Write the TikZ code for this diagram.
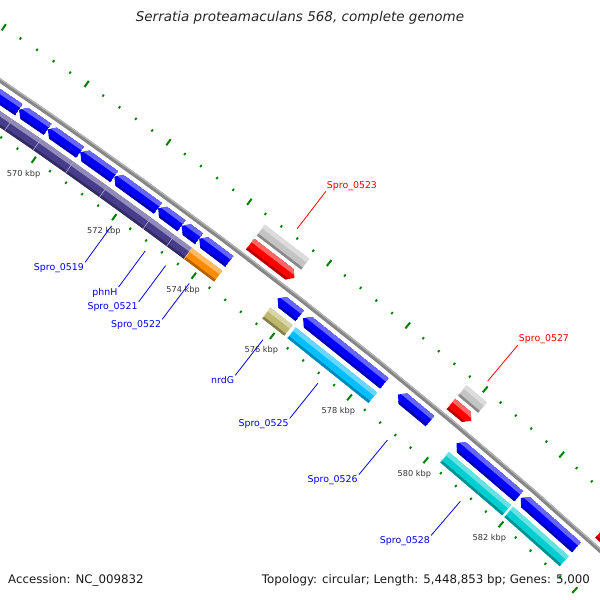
\documentclass[tikz,border=0pt]{standalone}
\usepackage{fontspec}
\setmainfont{DejaVu Sans}
\usepackage{tikz}
\definecolor{cdsblue}{HTML}{0000FF}
\definecolor{featred}{HTML}{FF0000}
\definecolor{darkslateblue}{HTML}{483D8B}
\definecolor{darkorange}{HTML}{FF8C00}
\definecolor{darkkhaki}{HTML}{BDB76B}
\definecolor{deepskyblue}{HTML}{00BFFF}
\definecolor{darkturquoise}{HTML}{00CED1}
\definecolor{silvergray}{HTML}{C4C4C4}
\definecolor{tickgreen}{HTML}{007F00}
\definecolor{backbonegray}{HTML}{868686}

\newcommand{\kang}[1]{345.21-0.509*(#1)}
\newcommand{\cgshade}[4]{%
  \fill[#4] ({\kang{#1}}:{#3}) -- ({\kang{#1}}:{#3+13.5}) -- ({\kang{#2}}:{#3+13.5}) -- ({\kang{#2}}:{#3}) -- cycle;
  \fill[#4!60!white] ({\kang{#1}}:{#3+9}) -- ({\kang{#1}}:{#3+13.5}) -- ({\kang{#2}}:{#3+13.5}) -- ({\kang{#2}}:{#3+9}) -- cycle;
  \fill[#4!70!black] ({\kang{#1}}:{#3}) -- ({\kang{#1}}:{#3+2.5}) -- ({\kang{#2}}:{#3+2.5}) -- ({\kang{#2}}:{#3}) -- cycle;}
\newcommand{\cogbox}[4]{%
  \cgshade{#1}{#2}{#3}{#4}
  \draw[#4!45!white, line width=0.6] ({\kang{#1}}:{#3}) -- ({\kang{#1}}:{#3+13.5});}
\newcommand{\revcds}[4]{%
  \begin{scope}
    \clip ({\kang{#1}}:{#3+6.75}) -- ({\kang{#1+0.13}}:{#3+13.5}) -- ({\kang{#2}}:{#3+13.5}) -- ({\kang{#2}}:{#3}) -- ({\kang{#1+0.13}}:{#3}) -- cycle;
    \cgshade{#1}{#2}{#3}{#4}
  \end{scope}}
\newcommand{\fwdcds}[4]{%
  \begin{scope}
    \clip ({\kang{#1}}:{#3}) -- ({\kang{#1}}:{#3+13.5}) -- ({\kang{#2-0.13}}:{#3+13.5}) -- ({\kang{#2}}:{#3+6.75}) -- ({\kang{#2-0.13}}:{#3}) -- cycle;
    \cgshade{#1}{#2}{#3}{#4}
  \end{scope}}

\begin{document}
\begin{tikzpicture}[
  x=1pt, y=1pt,
  backbone/.style={draw=backbonegray, line width=4.2},
  backbonelight/.style={draw=backbonegray!60!white, line width=1.2},
  bigtick/.style={draw=tickgreen, line width=2},
  smalltick/.style={draw=tickgreen, line width=1.8},
  kbpstyle/.style={text=black!80, font=\fontsize{8.2}{9.6}\selectfont, inner sep=0pt},
  namestyle/.style={font=\fontsize{9.4}{11}\selectfont, inner sep=1pt},
  revname/.style={namestyle, text=blue, anchor=north east},
  fwdname/.style={namestyle, text=red, anchor=south west},
  revlink/.style={draw=blue, line width=0.8},
  fwdlink/.style={draw=red, line width=0.8},
  titlestyle/.style={font=\fontsize{13.5}{16}\itshape, text=black!85, inner sep=0pt},
  infostyle/.style={font=\fontsize{11.8}{14}\selectfont, text=black!90, inner sep=0pt}
]
  \useasboundingbox (0,0) rectangle (600,600);
  \begin{scope}
    \clip (0,0) rectangle (600,600);
    \begin{scope}[shift={(-3150,-4120)}]
      \foreach \k in {566,568,...,584} {
        \draw[bigtick] ({\kang{\k}}:5558) -- ({\kang{\k}}:5565.5);
        \draw[bigtick] ({\kang{\k}}:5650.5) -- ({\kang{\k}}:5658);
        \foreach \j in {0.4,0.8,1.2,1.6} {
          \draw[smalltick] ({\kang{\k+\j}}:5560.5) -- ({\kang{\k+\j}}:5563);
          \draw[smalltick] ({\kang{\k+\j}}:5653) -- ({\kang{\k+\j}}:5655.5);
        }
      }
      \foreach \k in {570,572,...,582}
        \node[kbpstyle] (kbp\k) at ({\kang{\k}}:5544) {\k\ kbp};

      \draw[backbone] plot[domain=565:587, samples=45] ({\kang{\x}}:5608);
      \draw[backbonelight] plot[domain=565:587, samples=45] ({\kang{\x}}:5609.4);

      \revcds{567.00}{569.18}{5588}{cdsblue}
      \revcds{569.18}{569.88}{5588}{cdsblue}
      \revcds{569.88}{570.68}{5588}{cdsblue}
      \revcds{570.68}{571.52}{5588}{cdsblue}
      \revcds{571.52}{572.61}{5588}{cdsblue}
      \revcds{572.61}{573.20}{5588}{cdsblue}
      \revcds{573.20}{573.64}{5588}{cdsblue}
      \revcds{573.64}{574.40}{5588}{cdsblue}
      \revcds{575.62}{576.19}{5588}{cdsblue}
      \revcds{576.27}{578.37}{5588}{cdsblue}
      \revcds{578.72}{579.56}{5588}{cdsblue}
      \revcds{580.25}{581.90}{5588}{cdsblue}
      \revcds{581.95}{583.45}{5588}{cdsblue}

      \cogbox{567.00}{569.18}{5569.5}{darkslateblue}
      \cogbox{569.18}{569.88}{5569.5}{darkslateblue}
      \cogbox{569.88}{570.68}{5569.5}{darkslateblue}
      \cogbox{570.68}{571.52}{5569.5}{darkslateblue}
      \cogbox{571.52}{572.61}{5569.5}{darkslateblue}
      \cogbox{572.61}{573.20}{5569.5}{darkslateblue}
      \cogbox{573.20}{573.64}{5569.5}{darkslateblue}
      \cogbox{573.64}{574.40}{5569.5}{darkorange}
      \cogbox{575.62}{576.19}{5569.5}{darkkhaki}
      \cogbox{576.27}{578.37}{5569.5}{deepskyblue}
      \cogbox{580.25}{581.90}{5569.5}{darkturquoise}
      \cogbox{581.95}{583.45}{5569.5}{darkturquoise}

      \fwdcds{574.52}{575.64}{5614.5}{featred}
      \fwdcds{579.66}{580.19}{5614.5}{featred}
      \fwdcds{583.60}{585.00}{5614.5}{featred}
      \cogbox{574.52}{575.64}{5632}{silvergray}
      \cogbox{579.66}{580.19}{5632}{silvergray}

      \coordinate (f0519) at ({\kang{572.06}}:5553);
      \node[revname] (l0519) at ({\kang{572.06}}:5508) {Spro\_0519};
      \draw[revlink] (f0519) -- (l0519.north east);
      \coordinate (fphnH) at ({\kang{572.91}}:5553);
      \node[revname] (lphnH) at ({\kang{572.91}}:5508) {phnH};
      \draw[revlink] (fphnH) -- (lphnH.north east);
      \coordinate (f0521) at ({\kang{573.42}}:5553);
      \node[revname] (l0521) at ({\kang{573.42}}:5508) {Spro\_0521};
      \draw[revlink] (f0521) -- (l0521.north east);
      \coordinate (f0522) at ({\kang{574.02}}:5553);
      \node[revname] (l0522) at ({\kang{574.02}}:5508) {Spro\_0522};
      \draw[revlink] (f0522) -- (l0522.north east);
      \coordinate (f0523) at ({\kang{575.08}}:5662);
      \node[fwdname] (l0523) at ({\kang{575.08}}:5709) {Spro\_0523};
      \draw[fwdlink] (f0523) -- (l0523.south west);
      \coordinate (fnrdG) at ({\kang{575.90}}:5553);
      \node[revname] (lnrdG) at ({\kang{575.90}}:5508) {nrdG};
      \draw[revlink] (fnrdG) -- (lnrdG.north east);
      \coordinate (f0525) at ({\kang{577.32}}:5553);
      \node[revname] (l0525) at ({\kang{577.32}}:5508) {Spro\_0525};
      \draw[revlink] (f0525) -- (l0525.north east);
      \coordinate (f0526) at ({\kang{579.14}}:5553);
      \node[revname] (l0526) at ({\kang{579.14}}:5508) {Spro\_0526};
      \draw[revlink] (f0526) -- (l0526.north east);
      \coordinate (f0527) at ({\kang{579.93}}:5662);
      \node[fwdname] (l0527) at ({\kang{579.93}}:5709) {Spro\_0527};
      \draw[fwdlink] (f0527) -- (l0527.south west);
      \coordinate (f0528) at ({\kang{581.07}}:5553);
      \node[revname] (l0528) at ({\kang{581.07}}:5508) {Spro\_0528};
      \draw[revlink] (f0528) -- (l0528.north east);
    \end{scope}
  \end{scope}

  \node[titlestyle] (title) at (300,582)
    {Serratia proteamaculans 568, complete genome};
  \node[infostyle, anchor=west] (accession) at (8,20)
    {Accession: NC\_009832};
  \node[infostyle, anchor=east] (topology) at (590,20)
    {Topology: circular; Length: 5,448,853 bp; Genes: 5,000};
\end{tikzpicture}
\end{document}
